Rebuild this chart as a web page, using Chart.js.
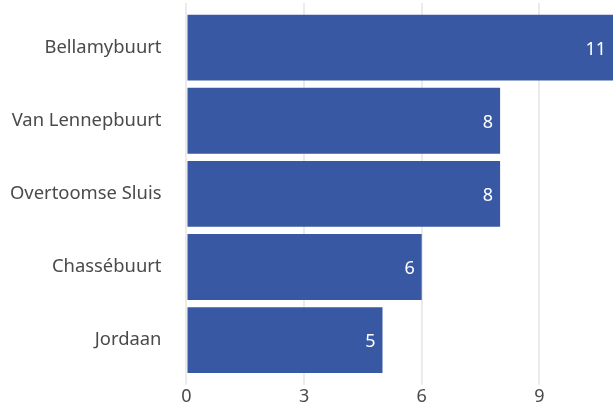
<!DOCTYPE html>
<html>
  <head>
    <meta charset="UTF-8" />
    <script src="https://cdn.jsdelivr.net/npm/chart.js"></script>
    <style>
      html,
      body {
        margin: 0;
        padding: 0;
        background: #fff;
      }
      #wrap {
        width: 613px;
        height: 410px;
      }
    </style>
  </head>
  <body>
    <div id="wrap"><canvas id="buurtChart" width="613" height="410"></canvas></div>
    <script>
      // buurten en aantallen
      const buurten = [
        "Bellamybuurt",
        "Van Lennepbuurt",
        "Overtoomse Sluis",
        "Chassébuurt",
        "Jordaan",
      ];
      const aantallen = [11, 8, 8, 6, 5];
      const xTicks = [0, 3, 6, 9];

      const fontFamily = "'Noto Sans', sans-serif";
      const textColor = "#4a4a4a";
      const gridColor = "#ebebeb";

      // rasterlijnen iets boven het plotvlak laten doorlopen
      const gridTop = {
        id: "gridTop",
        beforeDatasetsDraw(chart) {
          const ctx = chart.ctx;
          const area = chart.chartArea;
          const xScale = chart.scales.x;
          ctx.save();
          ctx.strokeStyle = gridColor;
          ctx.lineWidth = 2;
          xScale.ticks.forEach((t) => {
            const px = Math.round(xScale.getPixelForValue(t.value));
            ctx.beginPath();
            ctx.moveTo(px, area.top - 8);
            ctx.lineTo(px, area.top);
            ctx.stroke();
          });
          ctx.restore();
        },
      };

      // waarde-labels binnen de balken
      const valueLabels = {
        id: "valueLabels",
        afterDatasetsDraw(chart) {
          const ctx = chart.ctx;
          const area = chart.chartArea;
          const meta = chart.getDatasetMeta(0);
          ctx.save();
          ctx.fillStyle = "#ffffff";
          ctx.font = "18px " + fontFamily;
          ctx.textAlign = "right";
          ctx.textBaseline = "middle";
          meta.data.forEach((bar, i) => {
            const x = Math.min(bar.x, area.right) - 7;
            ctx.fillText(String(aantallen[i]), x, bar.y + 2);
          });
          ctx.restore();
        },
      };

      new Chart(document.getElementById("buurtChart"), {
        type: "bar",
        data: {
          labels: buurten,
          datasets: [
            {
              data: aantallen,
              backgroundColor: "#3858a4",
              borderWidth: 0,
              categoryPercentage: 1,
              barPercentage: 0.9,
            },
          ],
        },
        options: {
          indexAxis: "y",
          responsive: false,
          animation: false,
          layout: { padding: { top: 11, right: 0, left: 10, bottom: 0 } },
          plugins: {
            legend: { display: false },
            tooltip: { enabled: false },
          },
          scales: {
            x: {
              min: 0,
              max: 10.88,
              afterBuildTicks: (scale) => {
                scale.ticks = xTicks.map((v) => ({ value: v }));
              },
              border: { display: false },
              grid: { color: gridColor, lineWidth: 2, tickLength: 8 },
              ticks: {
                color: textColor,
                font: { family: fontFamily, size: 18, lineHeight: 0.85 },
                padding: 5,
              },
            },
            y: {
              border: { display: false },
              grid: {
                drawOnChartArea: false,
                drawTicks: true,
                tickLength: 25,
                tickColor: "rgba(0,0,0,0)",
              },
              ticks: {
                color: textColor,
                font: { family: fontFamily, size: 18.4 },
                padding: 0,
              },
            },
          },
        },
        plugins: [gridTop, valueLabels],
      });
    </script>
  </body>
</html>
